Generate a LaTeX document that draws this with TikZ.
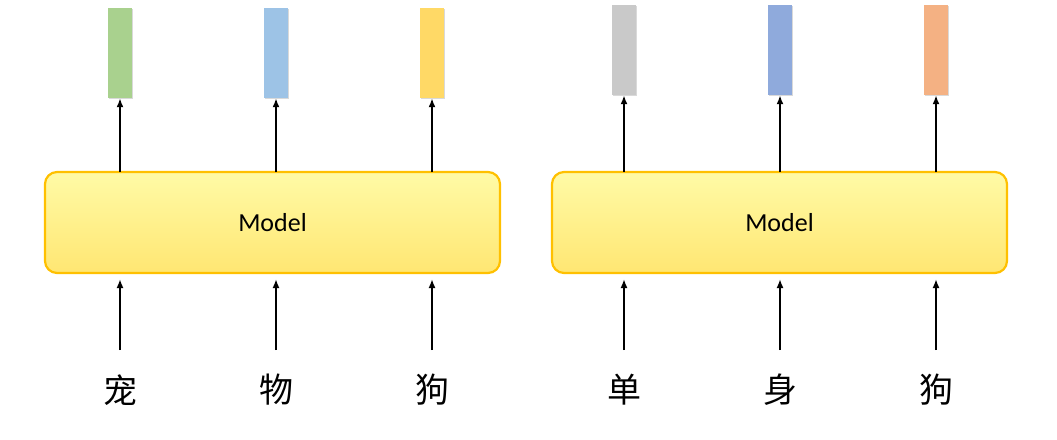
\documentclass[tikz,border=0pt]{standalone}
\usepackage{fontspec}
\setmainfont{Carlito}
\newfontfamily\cjk{Noto Sans CJK SC}
\usetikzlibrary{arrows.meta,shadows}
\begin{document}
\begin{tikzpicture}[x=1pt,y=-1pt,
  model/.style={draw=orange!60!yellow,line width=2.2pt,rounded corners=12pt,top color=orange!10!yellow!35,bottom color=orange!35!yellow!55,minimum width=455pt,minimum height=101pt,font=\fontsize{26}{30}\selectfont,inner sep=0pt},
  vec/.style={minimum width=24pt,minimum height=90pt,inner sep=0pt,drop shadow={shadow xshift=1pt,shadow yshift=-1pt,opacity=0.3}},
  arr/.style={-{Latex[length=9pt,width=7pt]},line width=2.2pt},
  ch/.style={font=\cjk\fontsize{34}{38}\selectfont,inner sep=0pt}]
\useasboundingbox (0,0) rectangle (1057,439);
\definecolor{vg}{HTML}{A9D18E}\definecolor{vb}{HTML}{9DC3E6}\definecolor{vy}{HTML}{FFD966}
\definecolor{vgr}{HTML}{C9C9C9}\definecolor{vb2}{HTML}{8FAADC}\definecolor{vo}{HTML}{F4B183}
\definecolor{mborder}{HTML}{FFC000}
\node[model,draw=mborder] (m1) at (272.5,222.5) {Model};
\node[model,draw=mborder] (m2) at (779.5,222.5) {Model};
\foreach \x/\c/\t/\n [count=\i] in {120/vg/宠/a,276/vb/物/b,432/vy/狗/c,624/vgr/单/d,780/vb2/身/e,936/vo/狗/f}{
  \pgfmathsetmacro{\vy}{\i>3 ? 50 : 53}
  \node[vec,fill=\c] (v\n) at (\x,\vy) {};
  \node[ch] (t\n) at (\x,390) {\t};
  \coordinate (s\n) at (\x,350);
  \coordinate (bt\n) at (\x,279);
  \coordinate (tt\n) at (\x,172);
  \draw[arr] (s\n) -- (bt\n);
  \draw[arr] (tt\n) -- (v\n.south);
}
\end{tikzpicture}
\end{document}
